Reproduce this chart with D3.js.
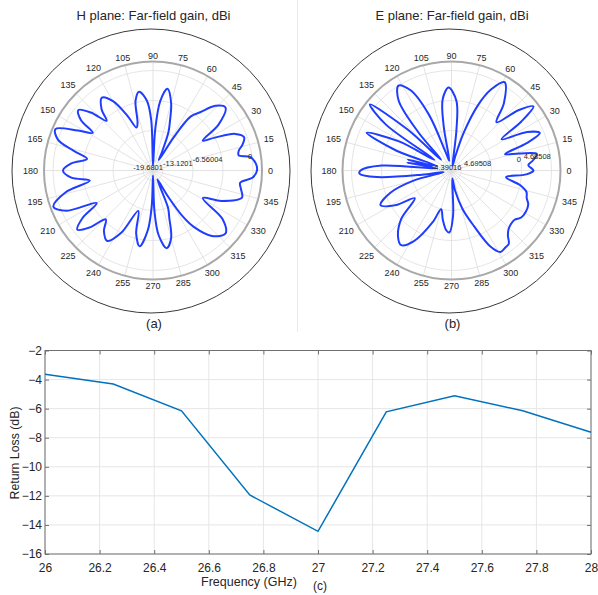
<!DOCTYPE html>
<html><head><meta charset="utf-8">
<script src="https://cdn.jsdelivr.net/npm/d3@7"></script>
<style>
body{margin:0;background:#fff}
svg{display:block}
text{font-family:"Liberation Sans",Arial,Helvetica,sans-serif;fill:#262626}
</style>
</head><body>
<svg id="c" width="598" height="595"></svg>
<script>
// ---------------- data ----------------
const angleTicks = d3.range(0, 360, 15);

const hRingValues = [-19.6801, -13.1201, -6.56004, 0];
const hRingLabels = ["-19.6801", "-13.1201", "-6.56004", "0"];
const eRingValues = [-4.39016, 4.69508, 13.78032, 22.86556];
const eRingLabels = ["-4.39016", "4.69508", "0", "4.68508"];

// H plane far-field gain (dBi) vs angle (deg)
const hAngle = [0,4,8,10,13,16,20,24,28,31,35,41,46,51,55,58,61,64,68,71,75,80,84,87,90,92,95,100,104,108,111,115,120,125,130,133,137,141,145,148,152,157,162,166,170,175,180,185,189,194,200,205,210,214,218,222,226,231,237,243,250,255,260,265,268,270,272,275,280,285,289,292,296,300,303,306,312,319,325,331,336,343,348,352,356];
const hGain  = [0.87,0.66,-0.44,-2.84,-2.62,-1.53,-0.66,-2.19,-6.56,-9.18,-4.37,-0.87,-2.19,-5.47,-7.43,-13.12,-19.24,-17.49,-12.90,-10.50,-6.56,-3.72,-6.56,-13.12,-20.77,-10.93,-6.56,-4.37,-6.12,-10.93,-11.81,-8.75,-4.37,-2.41,-4.37,-7.00,-3.28,-0.87,-2.62,-6.34,-3.28,1.31,0,-3.94,-7.22,-3.94,-2.19,-3.94,-7.87,-2.19,1.31,-1.09,-7.65,-3.28,-0.87,-3.28,-7.00,-4.81,-3.50,-6.56,-12.46,-7.65,-5.03,-8.75,-14.21,-20.77,-13.12,-7.65,-4.59,-6.56,-10.93,-13.12,-19.68,-15.31,-9.84,-6.56,-2.62,-0.87,-3.28,-9.40,-5.47,-1.53,-2.19,-2.62,0];

// E plane far-field gain (dBi) vs angle (deg)
const eAngle = [0,4,7,11,14,17,20,23,27,32,35,38,42,47,52,59,64,68,72,75,78,83,86,92,97,100,103,108,112,117,122,127,131,134,137,141,145,148,151,156,160,163,166,168,170,172,176,180,182,185,188,191,195,200,206,212,217,224,231,236,242,250,255,260,265,268,272,276,280,286,292,297,301,305,308,311,314,318,322,326,331,336,340,344,348,353,357];
const eGain  = [17.41,15.90,17.41,18.93,13.78,9.54,16.81,21.65,18.32,10.45,18.32,24.08,19.84,12.57,18.32,23.77,19.84,13.78,4.70,-2.88,-5.90,4.70,13.78,17.72,14.39,6.21,-4.39,-1.36,10.75,19.84,22.87,19.23,7.72,-2.88,10.75,24.38,16.81,-1.36,10.75,20.75,10.75,-2.88,6.21,-1.36,6.21,-2.88,13.78,20.14,20.44,15.29,1.67,-4.99,4.70,12.27,16.51,12.27,6.51,13.78,18.32,19.84,16.81,9.24,4.70,7.72,10.75,11.36,6.21,-4.99,-1.36,4.70,10.75,18.32,21.35,21.05,20.75,18.62,17.41,16.81,16.81,18.02,18.32,18.02,16.81,16.20,13.78,9.24,15.29];

// Return loss
const freq = [26, 26.25, 26.5, 26.75, 27, 27.25, 27.5, 27.75, 28];
const returnLoss = [-3.63, -4.31, -6.15, -11.94, -14.44, -6.22, -5.12, -6.15, -7.62];
const xTicks = [26, 26.2, 26.4, 26.6, 26.8, 27, 27.2, 27.4, 27.6, 27.8, 28];
const yTicks = [-16, -14, -12, -10, -8, -6, -4, -2];

// ---------------- drawing ----------------
const svg = d3.select("#c");

// faint panel separator
svg.append("line").attr("x1", 297.5).attr("x2", 297.5).attr("y1", 0).attr("y2", 332)
  .attr("stroke", "#e8e8e8").attr("stroke-width", 1);

const angleScale = d3.scaleLinear().domain([0, 360]).range([Math.PI / 2, Math.PI / 2 - 2 * Math.PI]);

function polar(cfg) {
  const g = svg.append("g").attr("transform", `translate(${cfg.cx},${cfg.cy})`);
  const R = 109;
  const rScale = d3.scaleLinear().domain([cfg.ringValues[0], cfg.ringValues[3]]).range([10, 100]);

  // outer black ellipse
  svg.append("ellipse").attr("cx", cfg.ox).attr("cy", cfg.oy).attr("rx", cfg.orx).attr("ry", cfg.ory)
    .attr("fill", "none").attr("stroke", "#3a3a3a").attr("stroke-width", 1);

  // spokes
  g.selectAll(".spoke").data(angleTicks).join("line")
    .attr("x1", 0).attr("y1", 0)
    .attr("x2", d => R * Math.sin(angleScale(d)))
    .attr("y2", d => -R * Math.cos(angleScale(d)))
    .attr("stroke", "#dcdcdc").attr("stroke-width", 0.8);
  // rings
  g.selectAll(".ring").data(cfg.ringValues).join("circle")
    .attr("r", d => rScale(d)).attr("fill", "none")
    .attr("stroke", "#dedede").attr("stroke-width", 0.8);
  g.append("circle").attr("r", R).attr("fill", "none").attr("stroke", "#a8a8a8").attr("stroke-width", 2);

  // angle labels
  angleTicks.forEach(a => {
    const t = g.append("text").text(a).attr("font-size", 9)
      .attr("text-anchor", "middle").attr("dominant-baseline", "central");
    const w = t.node().getComputedTextLength();
    const ang = angleScale(a);
    const rr = 115 + Math.abs(Math.sin(ang)) * w / 2;
    t.attr("x", rr * Math.sin(ang)).attr("y", -rr * Math.cos(ang));
  });

  // pattern
  const pts = cfg.angle.map((a, i) => ({a, v: cfg.gain[i]}));
  const line = d3.lineRadial()
    .angle(d => angleScale(d.a))
    .radius(d => Math.max(0, rScale(d.v)))
    .curve(d3.curveCatmullRomClosed.alpha(0.5));
  g.append("path").attr("d", line(pts)).attr("fill", "none")
    .attr("stroke", "#1f3dff").attr("stroke-width", 2).attr("stroke-linejoin", "round");

  // radial tick labels
  const la = 7 * Math.PI / 180;
  cfg.ringValues.forEach((v, i) => {
    const r = rScale(v);
    g.append("text").text(cfg.ringLabels[i]).attr("font-size", 7.5)
      .attr("text-anchor", "end").attr("dominant-baseline", "central")
      .attr("x", r * Math.cos(la)).attr("y", -r * Math.sin(la) - 2);
  });

  // title and caption
  svg.append("text").text(cfg.title).attr("x", cfg.tx).attr("y", 15)
    .attr("text-anchor", "middle").attr("dominant-baseline", "central").attr("font-size", 13);
  svg.append("text").text(cfg.caption).attr("x", cfg.cx + 1).attr("y", 323)
    .attr("text-anchor", "middle").attr("dominant-baseline", "central").attr("font-size", 13);
}

polar({cx: 153, cy: 170.5, ox: 151, oy: 171, orx: 139, ory: 142, tx: 153.5,
  title: "H plane: Far-field gain, dBi", caption: "(a)",
  ringValues: hRingValues, ringLabels: hRingLabels, angle: hAngle, gain: hGain});
polar({cx: 451.5, cy: 170.5, ox: 449, oy: 171, orx: 138, ory: 142, tx: 452,
  title: "E plane: Far-field gain, dBi", caption: "(b)",
  ringValues: eRingValues, ringLabels: eRingLabels, angle: eAngle, gain: eGain});

// ---------------- return loss chart ----------------
const L = 45, Rr = 591, T = 350.5, B = 554;
const x = d3.scaleLinear().domain([26, 28]).range([L, Rr]);
const y = d3.scaleLinear().domain([-16, -2]).range([B, T]);
const cg = svg.append("g");

cg.selectAll(".gx").data(xTicks).join("line")
  .attr("x1", d => x(d)).attr("x2", d => x(d)).attr("y1", T).attr("y2", B)
  .attr("stroke", "#e6e6e6").attr("stroke-width", 1);
cg.selectAll(".gy").data(yTicks).join("line")
  .attr("x1", L).attr("x2", Rr).attr("y1", d => y(d)).attr("y2", d => y(d))
  .attr("stroke", "#e6e6e6").attr("stroke-width", 1);

// axes (ticks inward)
const axB = d3.axisBottom(x).tickValues(xTicks).tickSize(-4).tickPadding(9).tickFormat(d3.format("~g"));
const axL = d3.axisLeft(y).tickValues(yTicks).tickSize(-4).tickPadding(3).tickFormat(d3.format("~g"));
const axT = d3.axisTop(x).tickValues(xTicks).tickSize(-4).tickFormat("");
const axR = d3.axisRight(y).tickValues(yTicks).tickSize(-4).tickFormat("");
function styleAxis(s) {
  s.selectAll("path").attr("stroke", "#707070").attr("stroke-width", 1);
  s.selectAll("line").attr("stroke", "#707070");
  s.selectAll("text").attr("font-size", 12).attr("fill", "#262626")
    .style("font-family", '"Liberation Sans",Arial,sans-serif');
}
cg.append("g").attr("transform", `translate(0,${B})`).call(axB).call(styleAxis);
cg.append("g").attr("transform", `translate(${L},0)`).call(axL).call(styleAxis);
cg.append("g").attr("transform", `translate(0,${T})`).call(axT).call(styleAxis);
cg.append("g").attr("transform", `translate(${Rr},0)`).call(axR).call(styleAxis);
cg.selectAll(".domain").attr("d", null);
cg.append("rect").attr("x", L).attr("y", T).attr("width", Rr - L).attr("height", B - T)
  .attr("fill", "none").attr("stroke", "#707070").attr("stroke-width", 1);

cg.append("path").datum(freq.map((f, i) => [f, returnLoss[i]]))
  .attr("d", d3.line().x(d => x(d[0])).y(d => y(d[1])))
  .attr("fill", "none").attr("stroke", "#0072bd").attr("stroke-width", 1.5);

cg.append("text").text("Frequency (GHz)").attr("x", 249).attr("y", 582)
  .attr("text-anchor", "middle").attr("dominant-baseline", "central").attr("font-size", 12.5);
cg.append("text").text("(c)").attr("x", 320).attr("y", 586)
  .attr("text-anchor", "middle").attr("dominant-baseline", "central").attr("font-size", 12);
cg.append("text").text("Return Loss (dB)")
  .attr("transform", "translate(15,453) rotate(-90)")
  .attr("text-anchor", "middle").attr("dominant-baseline", "central").attr("font-size", 12.3);
</script>
</body></html>
